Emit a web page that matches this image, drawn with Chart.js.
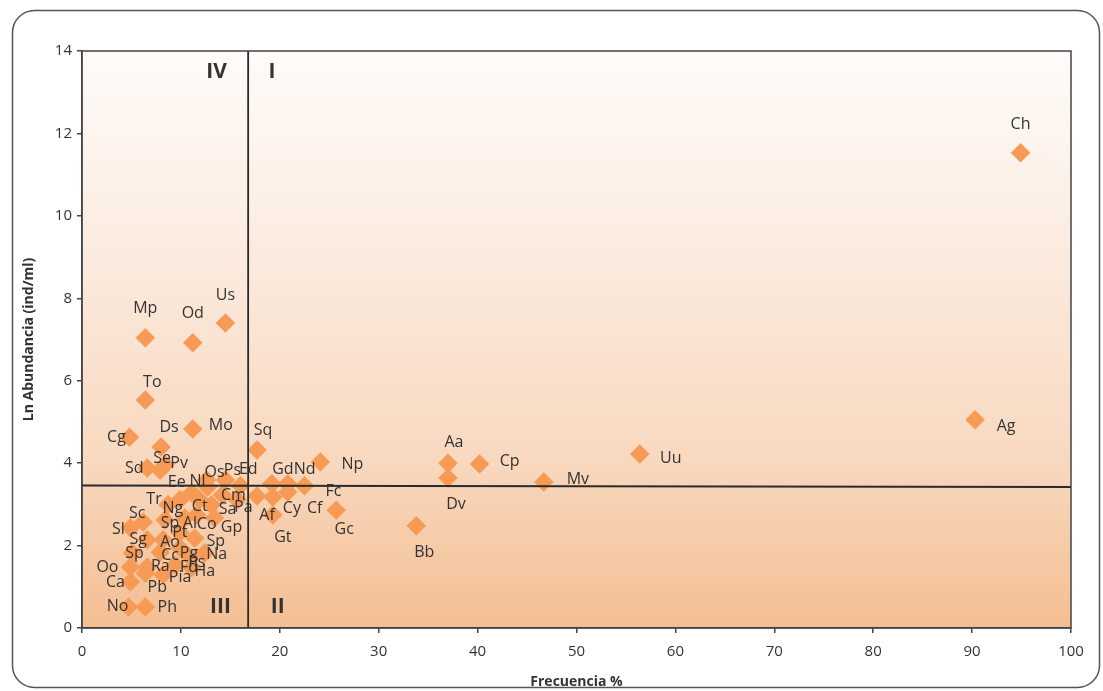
<!DOCTYPE html>
<html><head><meta charset="utf-8">
<script src="https://cdn.jsdelivr.net/npm/chart.js@4"></script>
<style>html,body{margin:0;padding:0;background:#fff;}canvas{display:block;}</style>
</head><body>
<canvas id="c" width="1103" height="691"></canvas>
<script>
// ---- data ----
const speciesNames = ['Mp','Od','Us','To','Cg','Ds','Mo','Sd','Se','Pv','Os','Ps','Ed','Nl','Ee',
  'Tr','Ng','Ct','Cm','Sa','Pa','Sc','Sp','Al','Co','Gp','Pt','Sl','Sg','Ao','Sp','Sp','Cc','Pg','Ps','Na',
  'Ra','Fd','Ha','Pia','Pb','Oo','Ca','No','Ph',
  'Ch','Ag','Uu','Mv','Cp','Aa','Dv','Np','Sq','Gd','Nd','Fc','Af','Cy','Cf','Gt','Gc','Bb'];
const frequency = [6.4,11.2,14.5,6.4,4.8,8.0,11.2,6.6,7.9,8.4,12.6,14.5,16.0,12.7,11.1,
  8.7,9.9,11.9,14.2,13.1,15.7,6.2,8.4,10.4,11.6,13.4,9.9,4.9,6.6,8.2,11.4,5.1,7.9,9.9,10.9,12.4,
  6.6,9.4,11.1,8.2,6.4,4.9,4.9,4.7,6.4,
  94.9,90.3,56.4,46.7,40.2,37.0,37.0,24.1,17.7,19.2,20.8,22.5,17.7,19.3,20.8,19.3,25.7,33.8];
const lnAbundance = [7.04,6.92,7.40,5.53,4.63,4.39,4.83,3.88,3.83,3.96,3.59,3.59,3.45,3.42,3.28,
  2.99,3.11,3.11,3.23,2.99,3.11,2.57,2.62,2.67,2.74,2.67,2.31,2.43,2.14,2.14,2.18,1.82,1.84,1.94,1.72,1.82,
  1.48,1.53,1.46,1.29,1.33,1.48,1.12,0.51,0.51,
  11.53,5.05,4.22,3.54,3.98,4.00,3.64,4.03,4.32,3.50,3.50,3.45,3.20,3.18,3.30,2.74,2.86,2.48];
// label offsets from each marker (px)
const labelDx = [0,0,0,7,-13,8,28,-13,2,14,8,7,8,-10,-15,
  -14,-7,0,11,16,6,-6,5,5,10,17,0,-12,-9,7,21,2,10,9,7,12,
  13,14,13,17,12,-23,-15,-11,22,
  0,31,31,34,30,6,8,32,6,11,17,29,10,19,27,10,8,8];
const labelDy = [-29,-29,-28,-18,0,-20,-3,0,-12,-1,-8,-10,-16,-6,-10,
  -5,9,7,1,5,8,-9,3,5,9,9,0,2,0,3,3,0,3,5,5,1,
  -1,2,4,3,14,0,1,-1,0,
  -28,7,4,-3,-3,-21,26,3,-20,-14,-14,6,19,11,16,22,19,27];
const xTickValues = [0,10,20,30,40,50,60,70,80,90,100];
const yTickValues = [0,2,4,6,8,10,12,14];
const cutFrequency = 16.8;          // vertical quadrant divider
const cutAbundance = [3.46, 3.42];  // horizontal divider (left, right ends)
const quadrantNames = ['IV','I','III','II'];
const quadrantFreq = [13.6, 19.2, 14.0, 19.8];
const quadrantAbund = [13.5, 13.5, 0.5, 0.5];

const points = frequency.map((f,i)=>({x:f, y:lnAbundance[i]}));

const bgPlugin = {
  id:'bg',
  beforeDraw(chart){
    const {ctx, chartArea:a} = chart;
    ctx.save();
    ctx.fillStyle='#ffffff'; ctx.fillRect(0,0,chart.width,chart.height);
    const g = ctx.createLinearGradient(0,a.top,0,a.bottom);
    g.addColorStop(0,'#fefbf9');
    g.addColorStop(0.35,'#fbebdf');
    g.addColorStop(0.7,'#f8d9c0');
    g.addColorStop(1,'#f4be92');
    ctx.fillStyle=g; ctx.fillRect(a.left,a.top,a.right-a.left,a.bottom-a.top);
    ctx.strokeStyle='#555'; ctx.lineWidth=1.5;
    ctx.beginPath(); ctx.roundRect(12.5,10.5,1087,677,22); ctx.stroke();
    ctx.restore();
  },
  afterDatasetsDraw(chart){
    const {ctx, chartArea:a, scales} = chart;
    ctx.save();
    ctx.strokeStyle='#444'; ctx.lineWidth=1.5;
    ctx.strokeRect(a.left,a.top,a.right-a.left,a.bottom-a.top);
    ctx.fillStyle='#333';
    ctx.font='16px "Open Sans"';
    ctx.textAlign='center'; ctx.textBaseline='middle';
    const meta = chart.getDatasetMeta(0);
    meta.data.forEach((el,i)=>{
      ctx.fillText(speciesNames[i], el.x+labelDx[i], el.y+labelDy[i]);
    });
    ctx.font='bold 21px "Open Sans"';
    quadrantNames.forEach((q,i)=>{
      ctx.fillText(q, scales.x.getPixelForValue(quadrantFreq[i]), scales.y.getPixelForValue(quadrantAbund[i]));
    });
    ctx.restore();
  }
};

new Chart(document.getElementById('c'),{
  type:'scatter',
  data:{datasets:[
    {data:points, pointStyle:'rectRot', pointRadius:9.5, pointHoverRadius:9.5,
     backgroundColor:'#f79a55', borderColor:'#f79a55', borderWidth:0.5, order:2},
    {data:[{x:0,y:cutAbundance[0]},{x:100,y:cutAbundance[1]}], showLine:true, borderColor:'#2a2a2a',
     borderWidth:2, pointRadius:0, order:1},
    {data:[{x:cutFrequency,y:0},{x:cutFrequency,y:14}], showLine:true, borderColor:'#2a2a2a',
     borderWidth:1.8, pointRadius:0, order:1}
  ]},
  options:{
    responsive:false, animation:false, devicePixelRatio:1,
    layout:{padding:{top:51,right:32,left:0,bottom:0}},
    plugins:{legend:{display:false}, tooltip:{enabled:false}},
    scales:{
      x:{type:'linear', min:0, max:100,
        afterBuildTicks:s=>{s.ticks=xTickValues.map(v=>({value:v}));},
        afterFit:s=>{s.height=63;},
        ticks:{color:'#333', font:{family:'"Open Sans"', size:15}, padding:10},
        grid:{drawOnChartArea:false, drawTicks:true, tickLength:5, color:'#444', lineWidth:1.5},
        border:{color:'#444', width:1.5},
        title:{display:true, text:'Frecuencia %', color:'#333', font:{family:'"Open Sans"', size:14, weight:'bold'}, padding:{top:0,bottom:1}}
      },
      y:{type:'linear', min:0, max:14,
        afterBuildTicks:s=>{s.ticks=yTickValues.map(v=>({value:v}));},
        afterFit:s=>{s.width=82;},
        ticks:{color:'#333', font:{family:'"Open Sans"', size:15}, padding:5},
        grid:{drawOnChartArea:false, drawTicks:true, tickLength:5, color:'#444', lineWidth:1.5},
        border:{color:'#444', width:1.5},
        title:{display:true, text:'Ln Abundancia (ind/ml)', color:'#333', font:{family:'"Open Sans"', size:14, weight:'bold'}, padding:{top:21,bottom:0}}
      }
    }
  },
  plugins:[bgPlugin]
});
</script>
</body></html>
